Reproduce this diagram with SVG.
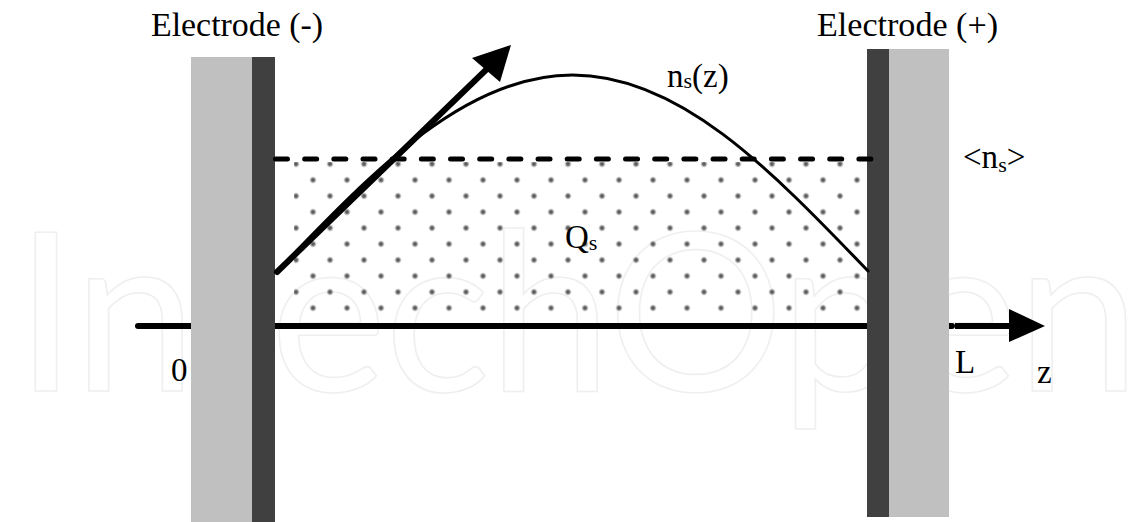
<svg xmlns="http://www.w3.org/2000/svg" width="1145" height="522" viewBox="0 0 1145 522">
  <style>
    .lbl { font-family: "Liberation Serif", "Times New Roman", serif; font-size: 33px; fill: #000; }
    .sub { font-size: 22px; }
    .elLight { fill: #c0c0c0; }
    .elDark { fill: #404040; }
    .thick { stroke: #000; stroke-width: 6; stroke-linecap: round; fill: none; }
    .thin { stroke: #000; stroke-width: 3; fill: none; stroke-linecap: round; }
    .wm { font-family: Lato, "Open Sans", sans-serif; font-size: 221px; fill: none; stroke: #efefef; stroke-width: 1.6; }
  </style>
  <defs>
    <radialGradient id="dotGrad">
      <stop offset="0" stop-color="#474747"/>
      <stop offset="0.4" stop-color="#7a7a7a"/>
      <stop offset="0.75" stop-color="#c8c8c8" stop-opacity="0.6"/>
      <stop offset="1" stop-color="#fff" stop-opacity="0"/>
    </radialGradient>
    <pattern id="dots" patternUnits="userSpaceOnUse" x="279" y="156" width="34" height="32">
      <circle cx="17" cy="8" r="4.2" fill="url(#dotGrad)"/>
      <circle cx="0" cy="24" r="4.2" fill="url(#dotGrad)"/>
      <circle cx="34" cy="24" r="4.2" fill="url(#dotGrad)"/>
    </pattern>
  </defs>

  <rect width="1145" height="522" fill="#fff"/>

  <g id="watermark">
    <text class="wm" x="15" y="391" textLength="1125" lengthAdjust="spacing">IntechOpen</text>
  </g>

  <g id="charge-region">
    <rect x="294" y="162" width="572" height="152" fill="url(#dots)"/>
    <text class="lbl" x="565" y="248">Q<tspan class="sub" dy="2">s</tspan></text>
  </g>

  <g id="connectors">
    <line class="thick" x1="138" y1="326" x2="952" y2="326"/>
    <line x1="955" y1="326" x2="1012" y2="326" stroke="#000" stroke-width="6"/>
    <polygon points="1009,309 1045,326 1009,342" fill="#000"/>
  </g>

  <g id="electrode-left">
    <rect class="elLight" x="191" y="57" width="61" height="465"/>
    <rect class="elDark" x="252" y="57" width="23" height="465"/>
    <text class="lbl" x="151" y="36" textLength="172" lengthAdjust="spacingAndGlyphs">Electrode (-)</text>
  </g>

  <g id="electrode-right">
    <rect class="elDark" x="867" y="49" width="22" height="468"/>
    <rect class="elLight" x="889" y="49" width="60" height="468"/>
    <text class="lbl" x="817" y="36" textLength="181" lengthAdjust="spacingAndGlyphs">Electrode (+)</text>
  </g>

  <g id="mean-density">
    <line x1="275.5" y1="159" x2="871" y2="159" stroke="#000" stroke-width="5" stroke-linecap="round" stroke-dasharray="12 17.17"/>
    <text class="lbl" x="963" y="168">&lt;n<tspan class="sub" dy="4">s</tspan><tspan dy="-4">&gt;</tspan></text>
  </g>

  <g id="density-curve">
    <path class="thin" d="M277,271 C375.8,168.1 466.2,75 572.5,75 C678.8,75 769.2,168.1 868,271"/>
    <text class="lbl" x="667" y="87">n<tspan class="sub" dy="1">s</tspan><tspan dy="-1">(z)</tspan></text>
  </g>

  <g id="flux-arrow">
    <line class="thick" x1="277" y1="272" x2="490" y2="66"/>
    <polygon points="511,45 472,58 500,82" fill="#000"/>
  </g>

  <g id="axis-labels">
    <text class="lbl" x="171" y="381">0</text>
    <text class="lbl" x="955" y="373">L</text>
    <text class="lbl" x="1037" y="383">z</text>
  </g>
</svg>
